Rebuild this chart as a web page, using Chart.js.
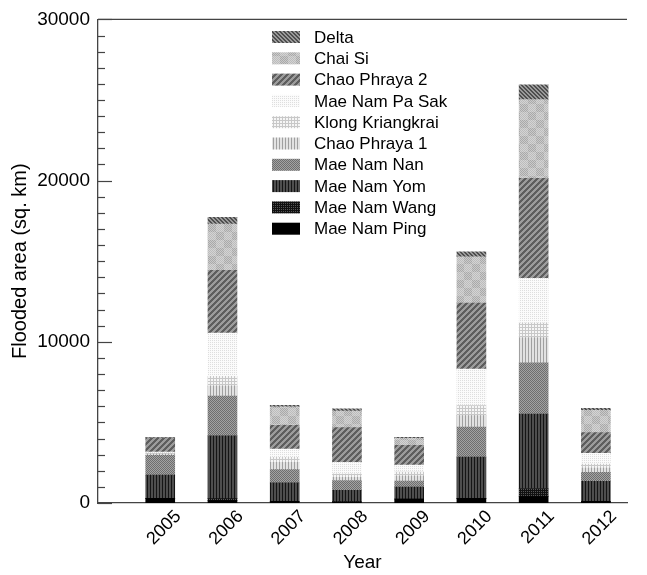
<!DOCTYPE html>
<html><head><meta charset="utf-8">
<script src="https://cdn.jsdelivr.net/npm/chart.js@4.4.0/dist/chart.umd.min.js"></script>
<style>html,body{margin:0;padding:0;background:#fff}#wrap{width:647px;height:575px;position:relative}</style>
</head><body><div id="wrap"><canvas id="c"></canvas></div>
<script>
// ---- data (stack order bottom -> top) ----
const years = [2005, 2006, 2007, 2008, 2009, 2010, 2011, 2012];
const maeNamPing      = [290, 150, 100, 80, 250, 290, 400, 100];
const maeNamWang      = [0, 120, 0, 0, 0, 0, 500, 0];
const maeNamYom       = [1435, 3900, 1150, 700, 740, 2565, 4620, 1250];
const maeNamNan       = [1230, 2465, 820, 615, 370, 1850, 3180, 555];
const chaoPhraya1     = [80, 615, 450, 200, 310, 720, 1540, 265];
const klongKriangkrai = [50, 615, 310, 210, 250, 615, 925, 250];
const maeNamPaSak     = [70, 2670, 515, 715, 430, 2260, 2770, 655];
const chaoPhraya2     = [875, 3905, 1480, 2155, 1230, 4100, 6200, 1295];
const chaiSi          = [0, 2870, 1145, 1030, 430, 2875, 4885, 1375];
const delta           = [50, 410, 85, 140, 60, 310, 925, 125];
const yTicks = [0, 10000, 20000, 30000];

const seriesLabels = ['Mae Nam Ping','Mae Nam Wang','Mae Nam Yom','Mae Nam Nan','Chao Phraya 1',
  'Klong Kriangkrai','Mae Nam Pa Sak','Chao Phraya 2','Chai Si','Delta'];
const seriesData = [maeNamPing, maeNamWang, maeNamYom, maeNamNan, chaoPhraya1,
  klongKriangkrai, maeNamPaSak, chaoPhraya2, chaiSi, delta];

// ---- fill patterns ----
function pat(size, fn){
  const c = document.createElement('canvas'); c.width = size; c.height = size;
  const g = c.getContext('2d');
  for (let x = 0; x < size; x++) for (let y = 0; y < size; y++){
    g.fillStyle = fn(x, y); g.fillRect(x, y, 1, 1);
  }
  return g.createPattern(c, 'repeat');
}
const mod = (a, n) => ((a % n) + n) % n;
const fills = [
  '#000000', // Ping
  pat(4, (x,y) => (x%2===0 || y%2===0) ? '#111' : '#555'), // Wang
  pat(6, (x,y) => (x%3===0) ? '#151515' : '#4e4e4e'), // Yom
  pat(2, (x,y) => ((x+y)%2===0) ? '#6e6e6e' : '#a2a2a2'), // Nan
  pat(6, (x,y) => (x%3===0) ? '#a0a0a0' : '#e2e2e2'), // CP1
  pat(6, (x,y) => (x%3===0 || y%3===0) ? '#c8c8c8' : '#f6f6f6'), // Klong
  pat(4, (x,y) => (x%2===0 && y%2===0) ? '#dedede' : '#fbfbfb'), // Pa Sak
  pat(6, (x,y) => (mod(x+y,6) < 3) ? '#5e5e5e' : '#9c9c9c'), // CP2
  pat(16, (x,y) => { const blk = ((Math.floor(x/8)+Math.floor(y/8))%2===0); const f=((x+y)%2===0);
      return blk ? (f ? '#a9a9a9' : '#cacaca') : (f ? '#bcbcbc' : '#d4d4d4'); }), // Chai Si
  pat(4, (x,y) => (mod(x-y,4) < 2) ? '#4e4e4e' : '#9a9a9a') // Delta
];

const FONT = "'Liberation Sans', Arial, Helvetica, sans-serif";

const datasets = seriesLabels.map((lab, i) => ({
  label: lab,
  data: seriesData[i],
  backgroundColor: fills[i],
  borderWidth: 0,
  barThickness: 29,
  stack: 's'
}));

const frame = {
  id: 'frame',
  afterDatasetsDraw(chart){
    const ctx = chart.ctx, a = chart.chartArea, ys = chart.scales.y;
    ctx.save();
    ctx.strokeStyle = '#444'; ctx.lineWidth = 1.3;
    ctx.beginPath();
    ctx.moveTo(a.left, a.top); ctx.lineTo(a.right, a.top);
    ctx.stroke();
    // inward ticks on the y axis
    ctx.lineWidth = 1.2;
    for (let v = ys.min; v <= ys.max; v += 1000){
      const py = Math.round(ys.getPixelForValue(v)) + 0.5;
      const len = (v % 10000 === 0) ? 14 : 7;
      ctx.beginPath(); ctx.moveTo(a.left, py); ctx.lineTo(a.left + len, py); ctx.stroke();
    }
    ctx.restore();
  },
  afterDraw(chart){
    const ctx = chart.ctx;
    const ds = chart.data.datasets.slice().reverse();
    ctx.save();
    ctx.font = '17px ' + FONT;
    ctx.textBaseline = 'middle';
    ctx.fillStyle = '#000';
    ds.forEach((d, i) => {
      const yc = 37 + i * 21.3;
      ctx.fillStyle = d.backgroundColor;
      ctx.fillRect(272, yc - 6, 28, 12);
      ctx.fillStyle = '#000';
      ctx.fillText(d.label, 314, yc + 1);
    });
    ctx.restore();
  }
};

new Chart(document.getElementById('c'), {
  type: 'bar',
  data: { labels: years, datasets },
  options: {
    responsive: true, maintainAspectRatio: false, animation: false,
    layout: { padding: { left: 0, top: 16, right: 20, bottom: 0 } },
    plugins: { legend: { display: false }, tooltip: { enabled: false } },
    scales: {
      x: {
        type: 'linear', stacked: true, min: 2004, max: 2012.5, offset: false,
        grid: { display: false, drawTicks: false },
        border: { display: true, color: '#444', width: 1.3 },
        ticks: {
          stepSize: 1, autoSkip: false, minRotation: 45, maxRotation: 45, padding: 3,
          labelOffset: 18,
          color: '#000', font: { family: FONT, size: 18 },
          callback: v => years.includes(v) ? String(v) : ''
        },
        title: { display: true, text: 'Year', color: '#000', font: { family: FONT, size: 19 }, padding: { top: 0, bottom: 1 } },
        afterFit(s){ s.height = 72; }
      },
      y: {
        stacked: true, min: 0, max: 30000,
        grid: { display: false, drawTicks: false },
        border: { display: true, color: '#444', width: 1.3 },
        afterBuildTicks(s){ s.ticks = yTicks.map(v => ({ value: v })); },
        ticks: { color: '#000', padding: 8, font: { family: FONT, size: 19 }, callback: v => String(v) },
        title: { display: true, text: 'Flooded area (sq. km)', color: '#000', font: { family: FONT, size: 20 }, padding: { top: 8, bottom: 0 } },
        afterFit(s){ s.width = 98; }
      }
    }
  },
  plugins: [frame]
});
</script>
</body></html>
